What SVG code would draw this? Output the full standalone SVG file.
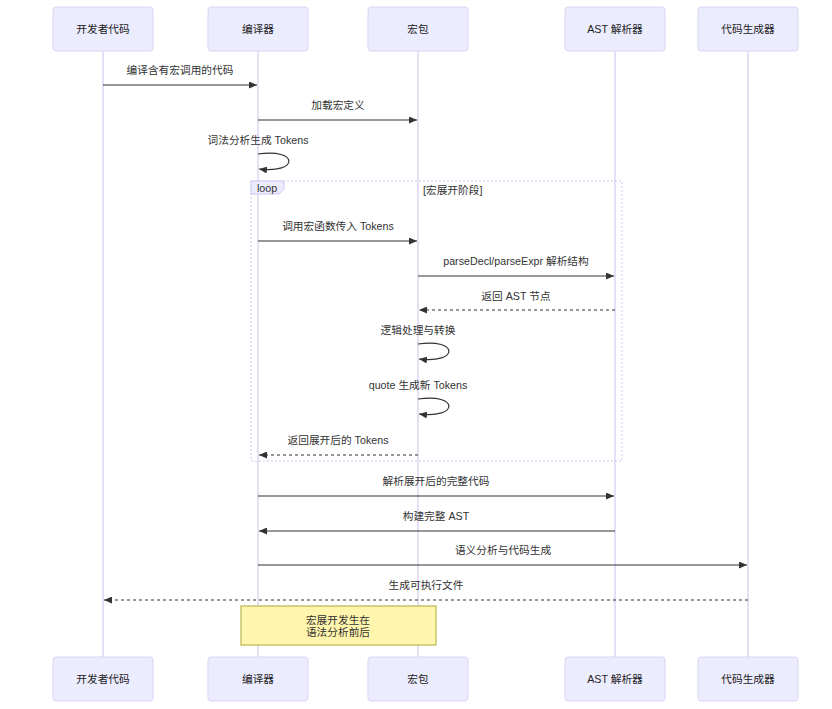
<svg xmlns="http://www.w3.org/2000/svg" width="832" height="709" viewBox="0 0 832 709">
<defs>
<style>
text{font-family:"Liberation Sans","Noto Sans CJK SC",sans-serif;font-size:10.7px;fill:#333;}
.actor rect{fill:#ececff;stroke:#ddd4f6;stroke-width:1;}
.actor text{text-anchor:middle;dominant-baseline:central;fill:#222;}
.life{stroke:#ddd4f6;stroke-width:1.5;}
.msg{stroke:#333;stroke-width:1.2;fill:none;}
.dash{stroke-dasharray:3,3;}
.lbl{text-anchor:middle;dominant-baseline:central;}
.loopbox{fill:none;stroke:#cfc6f2;stroke-width:1;stroke-dasharray:2,2;}
</style>
<marker id="ah" viewBox="0 0 8 7" refX="8" refY="3.5" markerWidth="8" markerHeight="7" markerUnits="userSpaceOnUse" orient="auto">
<path d="M0,0 L8,3.5 L0,7 z" fill="#333"/>
</marker>
</defs>
<rect width="832" height="709" fill="#fff"/>
<g id="lifelines">
<line class="life" x1="103" y1="51" x2="103" y2="657"/>
<line class="life" x1="258" y1="51" x2="258" y2="657"/>
<line class="life" x1="418" y1="51" x2="418" y2="657"/>
<line class="life" x1="615" y1="51" x2="615" y2="657"/>
<line class="life" x1="748" y1="51" x2="748" y2="657"/>
</g>
<g id="actor-dev" class="actor"><rect x="53" y="7" width="100" height="44" rx="3"/><text x="103" y="29">开发者代码</text></g>
<g id="actor-compiler" class="actor"><rect x="208" y="7" width="100" height="44" rx="3"/><text x="258" y="29">编译器</text></g>
<g id="actor-macro" class="actor"><rect x="368" y="7" width="100" height="44" rx="3"/><text x="418" y="29">宏包</text></g>
<g id="actor-ast" class="actor"><rect x="565" y="7" width="100" height="44" rx="3"/><text x="615" y="29">AST 解析器</text></g>
<g id="actor-codegen" class="actor"><rect x="698" y="7" width="100" height="44" rx="3"/><text x="748" y="29">代码生成器</text></g>
<g id="loop">
<rect class="loopbox" x="251" y="181" width="371" height="280"/>
<polygon points="251,181 284,181 284,189 279,194 251,194" fill="#ececff" stroke="#cfc6f2" stroke-width="1"/>
<text x="257" y="188" dominant-baseline="central" fill="#222">loop</text>
<text x="423" y="190" dominant-baseline="central" fill="#222">[宏展开阶段]</text>
</g>
<g id="connectors">
<text class="lbl" x="180" y="70">编译含有宏调用的代码</text>
<line class="msg" x1="103" y1="85" x2="257" y2="85" marker-end="url(#ah)"/>
<text class="lbl" x="338" y="105">加载宏定义</text>
<line class="msg" x1="258" y1="120" x2="417" y2="120" marker-end="url(#ah)"/>
<text class="lbl" x="258" y="140">词法分析生成 Tokens</text>
<path class="msg" d="M258,154 C299,148 299,174 259,169" marker-end="url(#ah)"/>
<text class="lbl" x="338" y="226">调用宏函数传入 Tokens</text>
<line class="msg" x1="258" y1="241" x2="417" y2="241" marker-end="url(#ah)"/>
<text class="lbl" x="516" y="261">parseDecl/parseExpr 解析结构</text>
<line class="msg" x1="418" y1="276" x2="614" y2="276" marker-end="url(#ah)"/>
<text class="lbl" x="516" y="296">返回 AST 节点</text>
<line class="msg dash" x1="615" y1="310" x2="419" y2="310" marker-end="url(#ah)"/>
<text class="lbl" x="418" y="330">逻辑处理与转换</text>
<path class="msg" d="M418,344 C459,338 459,364 419,359" marker-end="url(#ah)"/>
<text class="lbl" x="418" y="385">quote 生成新 Tokens</text>
<path class="msg" d="M418,399 C459,393 459,419 419,414" marker-end="url(#ah)"/>
<text class="lbl" x="338" y="440">返回展开后的 Tokens</text>
<line class="msg dash" x1="418" y1="455" x2="259" y2="455" marker-end="url(#ah)"/>
<text class="lbl" x="436" y="481">解析展开后的完整代码</text>
<line class="msg" x1="258" y1="496" x2="614" y2="496" marker-end="url(#ah)"/>
<text class="lbl" x="436" y="516">构建完整 AST</text>
<line class="msg" x1="615" y1="531" x2="259" y2="531" marker-end="url(#ah)"/>
<text class="lbl" x="503" y="550">语义分析与代码生成</text>
<line class="msg" x1="258" y1="565" x2="747" y2="565" marker-end="url(#ah)"/>
<text class="lbl" x="426" y="585">生成可执行文件</text>
<line class="msg dash" x1="748" y1="600" x2="104" y2="600" marker-end="url(#ah)"/>
</g>
<g id="note">
<rect x="241" y="606" width="195" height="39" fill="#fff5ad" stroke="#aaaa33" stroke-width="1"/>
<text class="lbl" x="338" y="620">宏展开发生在</text>
<text class="lbl" x="338" y="632">语法分析前后</text>
</g>
<g id="actor-dev-bottom" class="actor"><rect x="53" y="657" width="100" height="44" rx="3"/><text x="103" y="679">开发者代码</text></g>
<g id="actor-compiler-bottom" class="actor"><rect x="208" y="657" width="100" height="44" rx="3"/><text x="258" y="679">编译器</text></g>
<g id="actor-macro-bottom" class="actor"><rect x="368" y="657" width="100" height="44" rx="3"/><text x="418" y="679">宏包</text></g>
<g id="actor-ast-bottom" class="actor"><rect x="565" y="657" width="100" height="44" rx="3"/><text x="615" y="679">AST 解析器</text></g>
<g id="actor-codegen-bottom" class="actor"><rect x="698" y="657" width="100" height="44" rx="3"/><text x="748" y="679">代码生成器</text></g>
</svg>
